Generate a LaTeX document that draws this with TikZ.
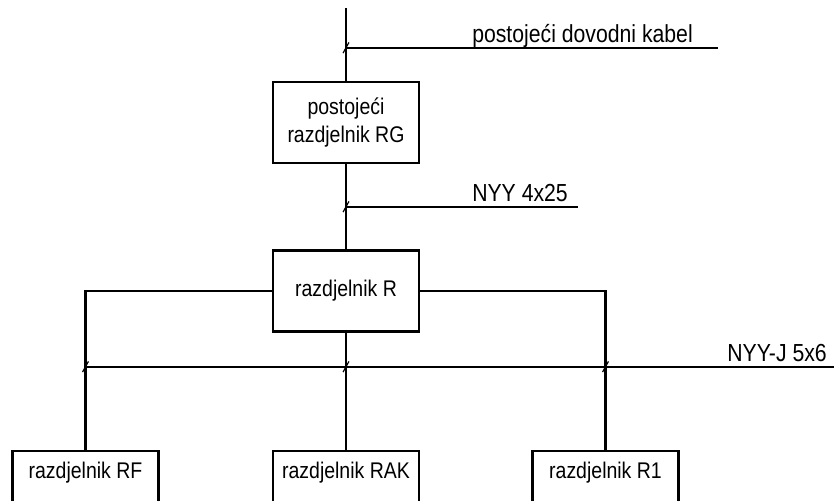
\documentclass[tikz,border=0pt]{standalone}
\usepackage{fontspec}
\setmainfont{Liberation Sans}[FakeStretch=0.86]
\usepackage{tikz}
\usetikzlibrary{positioning}

\begin{document}
\begin{tikzpicture}[x=0.75pt, y=-0.75pt,
    font=\fontsize{17}{21}\selectfont,
    box/.style={draw, line width=1.8pt, minimum width=109.5pt, minimum height=60.5pt, align=center, inner sep=0pt},
    openbox/.style={draw, line width=1.8pt, minimum width=109.5pt, anchor=north, inner ysep=0pt, text height=20.5pt, text depth=60pt},
    feeder/.style={line width=1.8pt},
    cable/.style={line width=1.1pt},
    tick/.style={line width=0.9pt},
    cablelabel/.style={anchor=base west, inner sep=0pt, font=\fontsize{18.5}{20}\selectfont}]
    \clip (0, 0) rectangle (834, 500);

    % Nodes boxes
    \node[box] (rg) at (346, 122.5) {postojeći\\razdjelnik RG};
    \node[box] (r) at (346, 291) {razdjelnik R};
    \node[openbox] (rf) at (85.5, 450) {razdjelnik RF};
    \node[openbox] (rak) at (346, 450) {razdjelnik RAK};
    \node[openbox] (r1) at (605.5, 450) {razdjelnik R1};

    % Coordinates
    \coordinate (top) at (346, 8);
    \coordinate (c1) at (346, 48);
    \coordinate (c1end) at (718, 48);
    \coordinate (c2) at (346, 207);
    \coordinate (c2end) at (578, 207);
    \coordinate (c3a) at (85.5, 367);
    \coordinate (c3b) at (346, 367);
    \coordinate (c3c) at (605.5, 367);
    \coordinate (c3end) at (834, 367);

    % Connections
    \draw[feeder] (top) -- (rg.north);
    \draw[feeder] (rg.south) -- (r.north);
    \draw[feeder] (r.west) -| (rf.north);
    \draw[feeder] (r.south) -- (rak.north);
    \draw[feeder] (r.east) -| (r1.north);

    % Cables
    \draw[cable] (c1) -- (c1end);
    \draw[cable] (c2) -- (c2end);
    \draw[cable] (c3a) -- (c3end);
    \foreach \c in {c1, c2, c3a, c3b, c3c}
        \draw[tick] ([xshift=-2.2pt, yshift=-3.8pt]\c) -- ([xshift=2.2pt, yshift=4.2pt]\c);

    % Labels
    \node[cablelabel] (l1) at (472, 42) {postojeći dovodni kabel};
    \node[cablelabel] (l2) at (472, 201) {NYY 4x25};
    \node[cablelabel, anchor=base east] (l3) at (827, 361) {NYY-J 5x6};
\end{tikzpicture}
\end{document}
